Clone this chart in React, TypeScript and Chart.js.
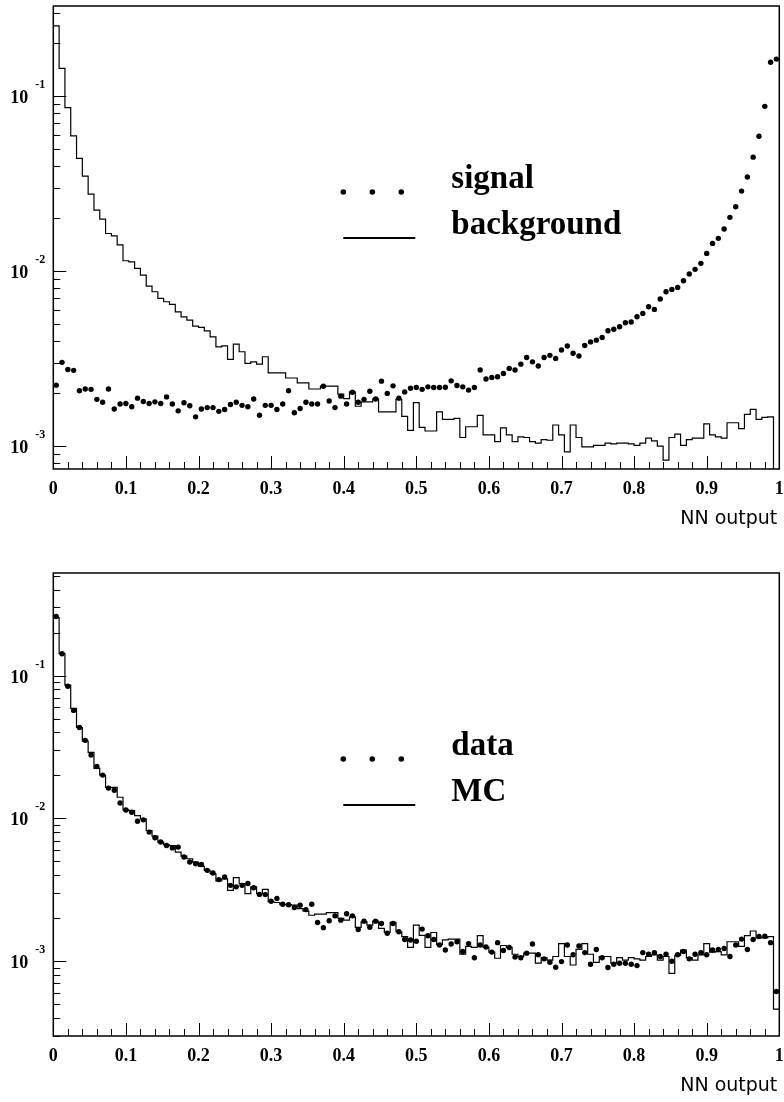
import React, { useEffect, useRef } from "react";
import { Chart, registerables } from "chart.js";

Chart.register(...registerables);

// ---------------- data ----------------
const X_MIN = 0;
const X_MAX = 1;
const BIN_WIDTH = 0.008; // 125 bins on [0, 1]

const xTickValues = [0, 0.1, 0.2, 0.3, 0.4, 0.5, 0.6, 0.7, 0.8, 0.9, 1];
const xTickLabels = ["0", "0.1", "0.2", "0.3", "0.4", "0.5", "0.6", "0.7", "0.8", "0.9", "1"];
const yDecadeExponents = [-3, -2, -1];
const xAxisTitle = "NN output";

const topYRange = [7.4e-4, 0.327];
const bottomYRange = [3.1e-4, 0.522];

const topLegendLabels = ["signal", "background"];
const bottomLegendLabels = ["data", "MC"];

// top panel: signal (points) and background (histogram)
const signal = [
  0.00223, 0.00301, 0.00274, 0.00271, 0.00207, 0.00212, 0.00211, 0.00185, 0.00178, 0.00212,
  0.00163, 0.00174, 0.00175, 0.00168, 0.00188, 0.0018, 0.00175, 0.00179, 0.00175, 0.00191,
  0.00174, 0.00159, 0.00177, 0.0017, 0.00147, 0.00163, 0.00166, 0.00166, 0.00158, 0.00162,
  0.00173, 0.00178, 0.00171, 0.00168, 0.00186, 0.0015, 0.00171, 0.00171, 0.00162, 0.00174,
  0.00207, 0.00155, 0.00164, 0.00178, 0.00174, 0.00174, 0.0022, 0.00181, 0.00166, 0.00193,
  0.00174, 0.00203, 0.00178, 0.00185, 0.00206, 0.00186, 0.00235, 0.002, 0.00221, 0.00188,
  0.00204, 0.00214, 0.00216, 0.00211, 0.00218, 0.00216, 0.00216, 0.00217, 0.00236, 0.00222,
  0.00218, 0.00209, 0.00216, 0.00272, 0.00242, 0.00247, 0.00249, 0.0026, 0.00278, 0.00272,
  0.00294, 0.00321, 0.00303, 0.00287, 0.00321, 0.0033, 0.00317, 0.00354, 0.00373, 0.00339,
  0.00327, 0.00376, 0.00394, 0.00403, 0.00418, 0.00456, 0.00465, 0.00481, 0.00507, 0.00512,
  0.00548, 0.00573, 0.00625, 0.00604, 0.00692, 0.00762, 0.00786, 0.00807, 0.00881, 0.00962,
  0.01023, 0.01107, 0.01262, 0.01439, 0.01538, 0.01738, 0.02028, 0.02329, 0.02864, 0.03445,
  0.04477, 0.05888, 0.08735, 0.156, 0.1626,
];

const background = [
  0.252, 0.144, 0.0858, 0.0593, 0.0441, 0.0349, 0.0275, 0.0223, 0.0198, 0.0164,
  0.0159, 0.0141, 0.01146, 0.0113, 0.01035, 0.00948, 0.0082, 0.00762, 0.00698, 0.00668,
  0.00645, 0.00585, 0.00548, 0.00525, 0.00485, 0.00477, 0.00456, 0.00421, 0.00369, 0.00374,
  0.00313, 0.00383, 0.00346, 0.00297, 0.00303, 0.00294, 0.00324, 0.00262, 0.00262, 0.00262,
  0.00245, 0.00245, 0.0023, 0.0023, 0.00212, 0.00212, 0.0022, 0.0022, 0.0022, 0.00198,
  0.00187, 0.00204, 0.00169, 0.00179, 0.00179, 0.00186, 0.00157, 0.00157, 0.00157, 0.00185,
  0.00148, 0.00123, 0.00177, 0.00128, 0.00122, 0.00122, 0.00157, 0.00142, 0.00142, 0.00144,
  0.00112, 0.00129, 0.00129, 0.0015, 0.00116, 0.00116, 0.00106, 0.00127, 0.00116, 0.00106,
  0.00113, 0.00112, 0.00106, 0.00104, 0.00109, 0.00108, 0.00132, 0.00116, 0.000927, 0.00132,
  0.00112, 0.00099, 0.00099, 0.00101, 0.00101, 0.00104, 0.00103, 0.00104, 0.00104, 0.00103,
  0.00101, 0.00104, 0.00111, 0.00107, 0.001, 0.000832, 0.00112, 0.00117, 0.00101, 0.00109,
  0.00111, 0.00111, 0.00134, 0.00116, 0.00113, 0.00111, 0.00136, 0.00136, 0.00126, 0.00152,
  0.00162, 0.00142, 0.00146, 0.00147, 0,
];

// bottom panel: data (points) and MC (histogram)
const dataPoints = [
  0.2588, 0.1422, 0.0842, 0.057, 0.0433, 0.0352, 0.0278, 0.0231, 0.0201, 0.0163,
  0.01574, 0.01283, 0.01146, 0.01104, 0.00955, 0.00977, 0.00802, 0.00732, 0.00683, 0.00646,
  0.00622, 0.0063, 0.00537, 0.00495, 0.00482, 0.00476, 0.00433, 0.00415, 0.00373, 0.00389,
  0.0034, 0.00332, 0.0034, 0.0035, 0.00327, 0.00294, 0.00293, 0.00263, 0.00275, 0.00251,
  0.00249, 0.00238, 0.00247, 0.0023, 0.00251, 0.00187, 0.00172, 0.00192, 0.00208, 0.00194,
  0.00215, 0.00208, 0.00167, 0.00191, 0.00173, 0.00191, 0.00184, 0.00157, 0.00184, 0.00161,
  0.00142, 0.00141, 0.00138, 0.00168, 0.00151, 0.00142, 0.0013, 0.0012, 0.00132, 0.00137,
  0.00117, 0.00133, 0.00106, 0.0013, 0.00126, 0.00116, 0.00135, 0.00119, 0.00125, 0.00107,
  0.00106, 0.00114, 0.00132, 0.00111, 0.00104, 0.000984, 0.000908, 0.000995, 0.0013, 0.00111,
  0.00128, 0.00115, 0.000953, 0.00121, 0.00106, 0.000904, 0.000953, 0.00097, 0.00097, 0.000953,
  0.000933, 0.00115, 0.00112, 0.00115, 0.00108, 0.00112, 0.001, 0.00111, 0.00117, 0.00104,
  0.00112, 0.00115, 0.00111, 0.0012, 0.00121, 0.00123, 0.00108, 0.0013, 0.00143, 0.00121,
  0.00142, 0.00149, 0.0015, 0.00135, 0.000615,
];

const mc = [
  0.2547, 0.1422, 0.0856, 0.0589, 0.0433, 0.0348, 0.029, 0.0224, 0.0201, 0.0165,
  0.0165, 0.01406, 0.01146, 0.01133, 0.01047, 0.00993, 0.00823, 0.00751, 0.00683, 0.00653,
  0.00646, 0.00581, 0.00545, 0.00522, 0.00495, 0.00461, 0.00433, 0.0041, 0.00365, 0.00378,
  0.00314, 0.00385, 0.0035, 0.00298, 0.00332, 0.00298, 0.00319, 0.00261, 0.00258, 0.00249,
  0.00249, 0.00247, 0.00234, 0.00224, 0.0021, 0.00214, 0.00214, 0.00219, 0.00219, 0.002,
  0.00194, 0.00205, 0.00173, 0.00189, 0.00179, 0.00191, 0.0017, 0.00159, 0.00187, 0.00161,
  0.00149, 0.00125, 0.00179, 0.00152, 0.00125, 0.00159, 0.00131, 0.00141, 0.00143, 0.00143,
  0.00112, 0.00127, 0.00125, 0.00151, 0.00125, 0.00116, 0.00105, 0.00129, 0.00125, 0.00112,
  0.00108, 0.00114, 0.00114, 0.00097, 0.00106, 0.00102, 0.00108, 0.00133, 0.00108, 0.000942,
  0.00121, 0.00133, 0.00112, 0.000984, 0.00108, 0.00108, 0.00097, 0.00106, 0.00102, 0.00106,
  0.00104, 0.00102, 0.00108, 0.00111, 0.00102, 0.00108, 0.000824, 0.0011, 0.0012, 0.00106,
  0.00102, 0.00111, 0.00133, 0.00116, 0.00117, 0.00111, 0.00137, 0.00137, 0.00127, 0.00151,
  0.00163, 0.00146, 0.00146, 0.00149, 0.000463,
];

// ---------------- helpers ----------------
const SERIF = '"Liberation Serif", "Times New Roman", serif';
const SANS = '"DejaVu Sans", sans-serif';

function pointSeries(values: number[]) {
  return values.map((v, i) => ({ x: X_MIN + (i + 0.5) * BIN_WIDTH, y: v }));
}

function histSeries(values: number[], floor: number) {
  const pts = values.map((v, i) => ({ x: X_MIN + i * BIN_WIDTH, y: v > 0 ? v : floor }));
  const last = values[values.length - 1];
  pts.push({ x: X_MAX, y: last > 0 ? last : floor });
  return pts;
}

function makePawPlugin(legendLabels: string[]) {
  return {
    id: "pawAxes",
    afterDatasetsDraw(chart: any) {
      const { ctx, chartArea: a, scales } = chart;
      const xs = scales.x;
      const ys = scales.y;
      ctx.save();
      ctx.strokeStyle = "#000";
      ctx.fillStyle = "#000";
      ctx.lineWidth = 1;

      // x ticks (major every 0.1, minor every 0.02), drawn inward
      for (let k = 0; k <= 50; k++) {
        const v = X_MIN + (k / 50) * (X_MAX - X_MIN);
        const px = Math.round(xs.getPixelForValue(v)) + 0.5;
        const len = k % 5 === 0 ? 13 : 7;
        ctx.beginPath();
        ctx.moveTo(px, a.bottom);
        ctx.lineTo(px, a.bottom - len);
        ctx.stroke();
      }

      // y ticks (log: major at decades, minor at 2..9)
      const lo = Math.floor(Math.log10(ys.min));
      const hi = Math.ceil(Math.log10(ys.max));
      for (let d = lo; d <= hi; d++) {
        for (let m = 1; m <= 9; m++) {
          const v = m * Math.pow(10, d);
          if (v < ys.min || v > ys.max) continue;
          const py = Math.round(ys.getPixelForValue(v)) + 0.5;
          const len = m === 1 ? 13 : 7;
          ctx.beginPath();
          ctx.moveTo(a.left, py);
          ctx.lineTo(a.left + len, py);
          ctx.stroke();
        }
      }

      // frame
      ctx.lineWidth = 1.5;
      ctx.strokeRect(a.left, a.top, a.right - a.left, a.bottom - a.top);

      // x tick labels
      ctx.font = `bold 18px ${SERIF}`;
      ctx.textAlign = "center";
      ctx.textBaseline = "alphabetic";
      xTickValues.forEach((v, i) => {
        const px = xs.getPixelForValue(v);
        ctx.fillText(xTickLabels[i], px, a.bottom + 25);
      });

      // y tick labels 10^e
      yDecadeExponents.forEach((e) => {
        const py = ys.getPixelForValue(Math.pow(10, e));
        ctx.font = `bold 18px ${SERIF}`;
        ctx.textAlign = "right";
        ctx.fillText("10", a.left - 25, py + 7);
        ctx.font = `bold 12px ${SERIF}`;
        ctx.textAlign = "left";
        ctx.fillText(String(e), a.left - 18, py - 8);
      });

      // axis title
      ctx.font = `19px ${SANS}`;
      ctx.textAlign = "right";
      ctx.fillText(xAxisTitle, a.right - 2, a.bottom + 55);

      // legend
      const lx = a.left + 290;
      const ly = a.top + 186;
      [0, 29, 58].forEach((dx) => {
        ctx.beginPath();
        ctx.arc(lx + dx, ly, 2.8, 0, Math.PI * 2);
        ctx.fill();
      });
      ctx.lineWidth = 2;
      ctx.beginPath();
      ctx.moveTo(lx, ly + 46);
      ctx.lineTo(lx + 72, ly + 46);
      ctx.stroke();
      ctx.font = `bold 33px ${SERIF}`;
      ctx.textAlign = "left";
      ctx.fillText(legendLabels[0], lx + 108, ly - 4);
      ctx.fillText(legendLabels[1], lx + 108, ly + 42);

      ctx.restore();
    },
  };
}

type PanelProps = {
  top: number;
  height: number;
  padTop: number;
  padBottom: number;
  yRange: number[];
  points: number[];
  hist: number[];
  legend: string[];
};

function Panel({ top, height, padTop, padBottom, yRange, points, hist, legend }: PanelProps) {
  const ref = useRef<HTMLCanvasElement | null>(null);
  useEffect(() => {
    if (!ref.current) return;
    const chart = new Chart(ref.current, {
      type: "line",
      data: {
        datasets: [
          {
            data: histSeries(hist, yRange[0] / 10),
            stepped: "before",
            borderColor: "#000",
            borderWidth: 1.2,
            pointRadius: 0,
            fill: false,
          } as any,
          {
            data: pointSeries(points),
            showLine: false,
            pointRadius: 2.7,
            pointStyle: "circle",
            pointBackgroundColor: "#000",
            pointBorderWidth: 0,
            borderColor: "#000",
          } as any,
        ],
      },
      options: {
        animation: false,
        responsive: false,
        maintainAspectRatio: false,
        events: [],
        layout: { padding: { left: 53.3, right: 4.7, top: padTop, bottom: padBottom } },
        plugins: { legend: { display: false }, tooltip: { enabled: false } },
        scales: {
          x: { type: "linear", min: X_MIN, max: X_MAX, display: false },
          y: { type: "logarithmic", min: yRange[0], max: yRange[1], display: false },
        },
      },
      plugins: [makePawPlugin(legend)],
    });
    return () => chart.destroy();
  }, []);
  return (
    <canvas
      ref={ref}
      width={784}
      height={height}
      style={{ position: "absolute", left: 0, top, width: 784, height }}
    />
  );
}

export default function App() {
  return (
    <div style={{ position: "absolute", left: 0, top: 0, width: 784, height: 1102, background: "#fff" }}>
      <Panel
        top={0}
        height={551}
        padTop={6}
        padBottom={82}
        yRange={topYRange}
        points={signal}
        hist={background}
        legend={topLegendLabels}
      />
      <Panel
        top={551}
        height={551}
        padTop={22}
        padBottom={66}
        yRange={bottomYRange}
        points={dataPoints}
        hist={mc}
        legend={bottomLegendLabels}
      />
    </div>
  );
}
